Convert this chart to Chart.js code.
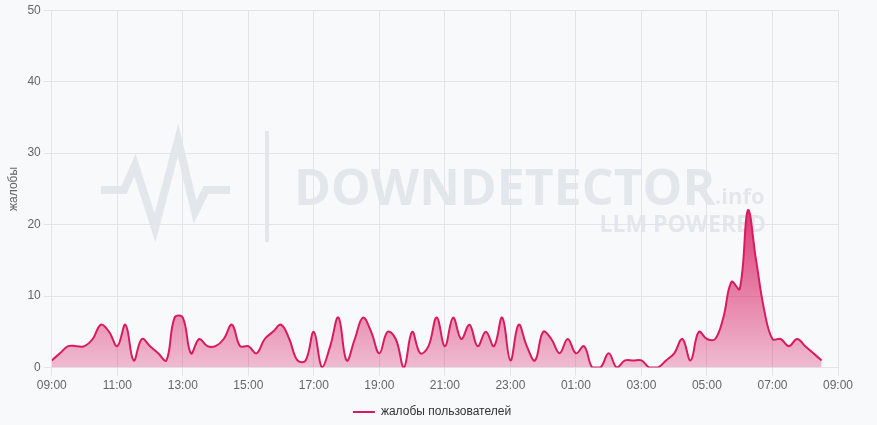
<!DOCTYPE html>
<html><head><meta charset="utf-8">
<script src="https://cdn.jsdelivr.net/npm/chart.js@4"></script>
<style>html,body{margin:0;padding:0;background:#f8f9fb;}#wrap{width:877px;height:425px;position:relative;}</style>
</head><body><div id="wrap"><canvas id="c" width="877" height="425"></canvas></div>
<script>
const tickLabels = ["09:00","11:00","13:00","15:00","17:00","19:00","21:00","23:00","01:00","03:00","05:00","07:00","09:00"];
const stepMinutes = 15;
const complaints = [
  1,2,3,3,3,4,6,5,3,6,1,4,3,2,1,7,7,2,4,
  3,3,4,6,3,3,2,4,5,6,4,1,1,5,0,3,7,1,4,
  7,5,2,5,4,0,5,2,3,7,3,7,4,6,3,5,3,7,1,
  6,3,1,5,4,2,4,2,3,0,0,2,0,1,1,1,0,0,1,
  2,4,1,5,4,4,7,12,11,22,15,8,4,4,3,4,3,2,1
];
const seriesLabel = "жалобы пользователей";
const yTitle = "жалобы";

const points = complaints.map((v,i)=>({x:i*stepMinutes, y:v}));

const watermark = {
  id:'watermark',
  afterLayout(chart){
    const lg = chart.legend;
    if(lg){ lg.left += 12; lg.right += 12; lg.top += 2; lg.bottom += 2; }
  },
  beforeDraw(chart){
    const ctx = chart.ctx;
    ctx.save();
    ctx.fillStyle = '#f8f9fb';
    ctx.fillRect(0,0,chart.width,chart.height);
    const wm = 'rgba(215,219,226,0.62)';
    ctx.strokeStyle = wm;
    ctx.lineWidth = 8;
    ctx.lineJoin = 'miter';
    ctx.beginPath();
    ctx.moveTo(101,190); ctx.lineTo(124,190); ctx.lineTo(135,165); ctx.lineTo(155,228);
    ctx.lineTo(178,140); ctx.lineTo(195,212); ctx.lineTo(206,190); ctx.lineTo(230,190);
    ctx.stroke();
    ctx.fillStyle = wm;
    ctx.fillRect(265,131,4,111);
    ctx.font = 'bold 50px "Open Sans", Inter, sans-serif';
    ctx.textBaseline = 'alphabetic';
    ctx.fillText('DOWNDETECTOR', 294, 205);
    ctx.font = 'bold 22px "Open Sans", Inter, sans-serif';
    ctx.fillText('.info', 715, 204);
    ctx.font = 'bold 23px "Open Sans", Inter, sans-serif';
    ctx.textAlign = 'right';
    ctx.fillText('LLM POWERED', 766, 232);
    ctx.restore();
  }
};

new Chart(document.getElementById('c'), {
  type:'line',
  data:{datasets:[{
    label: seriesLabel,
    data: points,
    borderColor:'#d81b60',
    borderWidth:2,
    pointRadius:0,
    pointStyle:'line',
    tension:0.4,
    fill:'origin',
    backgroundColor(ctx){
      const ca = ctx.chart.chartArea;
      if(!ca) return 'rgba(216,27,96,0.35)';
      const y = ctx.chart.scales.y;
      const g = ctx.chart.ctx.createLinearGradient(0, y.getPixelForValue(22), 0, ca.bottom);
      g.addColorStop(0,'rgba(216,27,96,0.85)');
      g.addColorStop(1,'rgba(216,27,96,0.28)');
      return g;
    }
  }]},
  options:{
    responsive:false,
    animation:false,
    layout:{padding:{left:2,right:39,top:6,bottom:-1}},
    scales:{
      x:{type:'linear',min:0,max:1440,
        ticks:{stepSize:120,autoSkip:false,maxRotation:0,color:'#666',font:{size:12},
          callback:(v)=>tickLabels[Math.round(v/120)]},
        grid:{color:'#e2e4e8'},border:{color:'#e2e4e8'}},
      y:{min:0,max:50,
        ticks:{stepSize:10,color:'#666',font:{size:12}},
        title:{display:true,text:yTitle,color:'#666',font:{size:12}},
        grid:{color:'#e2e4e8'},border:{color:'#e2e4e8'}}
    },
    plugins:{
      legend:{position:'bottom',labels:{usePointStyle:true,pointStyleWidth:22,padding:8,color:'#333',font:{size:12}}},
      tooltip:{enabled:false}
    }
  },
  plugins:[watermark]
});
</script></body></html>
